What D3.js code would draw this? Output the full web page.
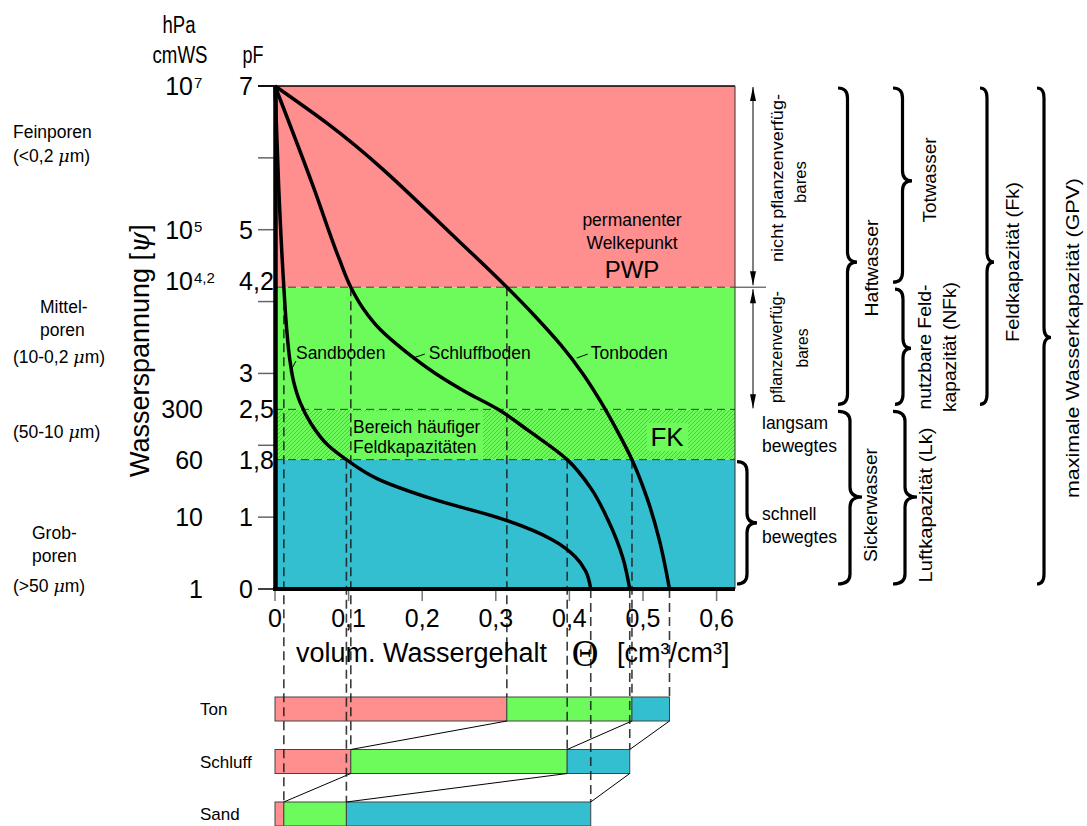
<!doctype html>
<html>
<head>
<meta charset="utf-8">
<title>pF-Kurven</title>
<style>
  body { margin: 0; background: #fff; }
  svg text { font-family: "Liberation Sans", Arial, sans-serif; fill: #000; }
</style>
</head>
<body>
<svg id="chart" width="1087" height="826"></svg>
<script src="https://d3js.org/d3.v7.min.js"></script>
<script>
  // ---- data ----
  var pfTicks = [7, 6, 5, 4, 3, 2, 1, 0];
  var pfLabels = [[7, "7"], [5, "5"], [4.2, "4,2"], [3, "3"], [2.5, "2,5"], [1.8, "1,8"], [1, "1"], [0, "0"]];
  var hpaLabels = [[7, "10", "7"], [5, "10", "5"], [4.2, "10", "4,2"], [2.5, "300", ""], [1.8, "60", ""], [1, "10", ""], [0, "1", ""]];
  var thetaTicks = [0, 0.1, 0.2, 0.3, 0.4, 0.5, 0.6];
  var thetaLabels = ["0", "0,1", "0,2", "0,3", "0,4", "0,5", "0,6"];

  // [theta, pF]
  var sandCurve = [[0, 7], [0.005, 5.6], [0.012, 4.2], [0.016, 3.6], [0.020, 3.2], [0.025, 2.9], [0.034, 2.6],
    [0.049, 2.3], [0.072, 2.0], [0.097, 1.8], [0.14, 1.53], [0.215, 1.25], [0.31, 0.97], [0.376, 0.69],
    [0.408, 0.45], [0.422, 0.25], [0.429, 0]];
  var siltCurve = [[0, 7], [0.052, 5.6], [0.087, 4.6], [0.103, 4.2], [0.12, 3.9], [0.143, 3.61], [0.178, 3.3],
    [0.218, 3.0], [0.258, 2.75], [0.303, 2.5], [0.345, 2.2], [0.397, 1.8], [0.43, 1.39], [0.452, 0.97],
    [0.473, 0.42], [0.482, 0]];
  var clayCurve = [[0, 7], [0.071, 6.48], [0.251, 4.83], [0.315, 4.2], [0.353, 3.8], [0.388, 3.4], [0.418, 3.0],
    [0.443, 2.6], [0.465, 2.2], [0.485, 1.8], [0.506, 1.25], [0.522, 0.69], [0.536, 0]];

  var soils = ["Ton", "Schluff", "Sand"];
  var thetaPWP = [0.315, 0.103, 0.012];
  var thetaFK = [0.485, 0.397, 0.097];
  var thetaGPV = [0.536, 0.482, 0.429];

  var bandFrom = [7, 4.2, 2.5, 1.8];
  var bandTo = [4.2, 2.5, 1.8, 0];

  var braceTop = [1.8, 7, 2.5, 7, 4.2, 2.5, 7, 7];
  var braceBottom = [0, 2.5, 0, 4.2, 2.5, 0, 2.5, 0];
  var braceTip = [0.92, 4.55, 1.28, 5.68, 3.35, 1.28, 4.55, 3.5];

  // ---- setup ----
  var pink = "#ff8e8e", green = "#6dfb5c", cyan = "#33bfcf";
  var bandFill = [pink, green, "url(#hatch)", cyan];

  var svg = d3.select("#chart");
  var x = d3.scaleLinear().domain([0, 0.625]).range([275, 735]);
  var y = d3.scaleLinear().domain([0, 7]).range([589, 86]);
  var yBar = d3.scalePoint().domain(soils).range([697, 802]);
  var barH = 24;

  var defs = svg.append("defs");
  var pat = defs.append("pattern").attr("id", "hatch")
    .attr("patternUnits", "userSpaceOnUse").attr("width", 4).attr("height", 4);
  pat.append("rect").attr("width", 4).attr("height", 4).attr("fill", green);
  pat.append("path").attr("d", "M-1,1 l2,-2 M0,4 l4,-4 M3,5 l2,-2")
    .attr("stroke", "#8f9a88").attr("stroke-width", 1);

  // bands
  svg.selectAll("rect.band").data(bandFrom).enter().append("rect")
    .attr("class", "band")
    .attr("x", x(0)).attr("width", x(0.625) - x(0))
    .attr("y", function(d) { return y(d); })
    .attr("height", function(d, i) { return y(bandTo[i]) - y(d); })
    .attr("fill", function(d, i) { return bandFill[i]; });

  // boxes behind hatched-area texts
  svg.append("rect").attr("x", 350).attr("y", y(2.5) + 2).attr("width", 133)
    .attr("height", y(1.8) - y(2.5) - 3).attr("fill", green);
  svg.append("rect").attr("x", 647).attr("y", 423).attr("width", 41).attr("height", 28).attr("fill", green);

  // dashed boundaries
  svg.selectAll("line.bd").data([4.2, 2.5, 1.8]).enter().append("line")
    .attr("x1", x(0)).attr("x2", x(0.625))
    .attr("y1", function(d) { return y(d); }).attr("y2", function(d) { return y(d); })
    .attr("stroke", "#3a3a3a").attr("stroke-width", 1).attr("stroke-dasharray", "8,5");

  // left ticks
  svg.selectAll("line.lt").data(pfTicks).enter().append("line")
    .attr("x1", 258).attr("x2", 275)
    .attr("y1", function(d) { return y(d); }).attr("y2", function(d) { return y(d); })
    .attr("stroke", function(d) { return (d == 7 || d == 0) ? "#000" : "#666"; })
    .attr("stroke-width", 1.5);
  svg.append("line").attr("x1", 258).attr("x2", 735).attr("y1", y(7)).attr("y2", y(7))
    .attr("stroke", "#000").attr("stroke-width", 1.5);
  svg.append("line").attr("x1", 735).attr("x2", 735).attr("y1", y(7)).attr("y2", y(0))
    .attr("stroke", "#333").attr("stroke-width", 1);

  // bottom ticks
  svg.selectAll("line.bt").data(thetaTicks).enter().append("line")
    .attr("x1", function(d) { return x(d); }).attr("x2", function(d) { return x(d); })
    .attr("y1", y(0)).attr("y2", y(0) + 12)
    .attr("stroke", "#777").attr("stroke-width", 1.5);

  // soil bars
  soils.forEach(function(s, i) {
    var segs = [[0, thetaPWP[i], pink], [thetaPWP[i], thetaFK[i], green], [thetaFK[i], thetaGPV[i], cyan]];
    svg.selectAll(null).data(segs).enter().append("rect")
      .attr("x", function(d) { return x(d[0]); })
      .attr("width", function(d) { return x(d[1]) - x(d[0]); })
      .attr("y", yBar(s)).attr("height", barH)
      .attr("fill", function(d) { return d[2]; })
      .attr("stroke", "#444").attr("stroke-width", 1);
    svg.append("text").attr("x", 200).attr("y", yBar(s) + 18)
      .attr("font-size", 17).text(s);
  });

  // connecting lines between bars
  for (var i = 0; i < soils.length - 1; i++) {
    [thetaPWP, thetaFK, thetaGPV].forEach(function(arr) {
      svg.append("line")
        .attr("x1", x(arr[i])).attr("y1", yBar(soils[i]) + barH)
        .attr("x2", x(arr[i + 1])).attr("y2", yBar(soils[i + 1]))
        .attr("stroke", "#000").attr("stroke-width", 1);
    });
  }

  // dashed verticals from curves to bars
  soils.forEach(function(s, i) {
    [[thetaPWP[i], 4.2], [thetaFK[i], 1.8], [thetaGPV[i], 0]].forEach(function(p) {
      svg.append("line")
        .attr("x1", x(p[0])).attr("x2", x(p[0]))
        .attr("y1", y(p[1])).attr("y2", yBar(s))
        .attr("stroke", "#1a1a1a").attr("stroke-opacity", 0.85)
        .attr("stroke-width", 1.6).attr("stroke-dasharray", "9,5");
    });
  });

  // axes
  svg.append("line").attr("x1", 275.5).attr("x2", 275.5).attr("y1", y(7)).attr("y2", y(0) + 2)
    .attr("stroke", "#000").attr("stroke-width", 4.5);
  svg.append("line").attr("x1", 273).attr("x2", 735).attr("y1", y(0)).attr("y2", y(0))
    .attr("stroke", "#000").attr("stroke-width", 4);

  // curves (theta as a smooth function of pF)
  var line = d3.line()
    .x(function(d) { return x(d[0]); })
    .y(function(d) { return y(d[1]); })
    .curve(d3.curveMonotoneY);
  [sandCurve, siltCurve, clayCurve].forEach(function(c) {
    svg.append("path").attr("d", line(c)).attr("fill", "none")
      .attr("stroke", "#000").attr("stroke-width", 3.5).attr("stroke-linejoin", "round");
  });

  // curve labels with leaders
  var curveLabels = [["Sandboden", 0.0285, 3.2, 0, 2, -6, 11],
    ["Schluffboden", 0.209, 3.2, -4, -5, -12, 4],
    ["Tonboden", 0.429, 3.2, -3, -5, -11, 4]];
  curveLabels.forEach(function(l) {
    var lx = x(l[1]), ly = y(l[2]);
    svg.append("text").attr("x", lx).attr("y", ly).attr("font-size", 17.5).text(l[0]);
    svg.append("line").attr("x1", lx + l[3]).attr("y1", ly + l[4])
      .attr("x2", lx + l[3] + l[5]).attr("y2", ly + l[4] + l[6])
      .attr("stroke", "#000").attr("stroke-width", 1);
  });

  // plot texts
  function txt(t, tx, ty, size, anchor) {
    return svg.append("text").attr("x", tx).attr("y", ty).attr("font-size", size)
      .attr("text-anchor", anchor || "start").text(t);
  }
  txt("permanenter", 632, 226, 17.5, "middle");
  txt("Welkepunkt", 632, 249, 17.5, "middle");
  txt("PWP", 632, 278, 24, "middle");
  txt("Bereich häufiger", 353, 433, 17.5);
  txt("Feldkapazitäten", 353, 453, 17.5);
  txt("FK", 667, 446, 26, "middle");

  // tick labels
  pfLabels.forEach(function(l) {
    var ty = y(l[0]) + (l[0] == 4.2 ? 3 : 9);
    var parts = l[1].split(",");
    txt(parts[0], 253, ty, 25, "end");
    if (parts.length > 1) txt("," + parts[1], 253, ty, 25, "start");
  });
  hpaLabels.forEach(function(l) {
    var ty = y(l[0]) + (l[0] == 4.2 ? 3 : 9);
    if (l[2]) {
      txt(l[1], 193, ty, 25, "end");
      txt(l[2], 194, ty - 7, 15, "start");
    } else {
      txt(l[1], 203, ty, 25, "end");
    }
  });
  thetaTicks.forEach(function(t, i) {
    txt(thetaLabels[i], x(t), 627, 25, "middle");
  });

  txt("hPa", 179, 33, 23, "middle").attr("textLength", 33).attr("lengthAdjust", "spacingAndGlyphs");
  txt("cmWS", 180, 63, 23, "middle").attr("textLength", 55).attr("lengthAdjust", "spacingAndGlyphs");
  txt("pF", 253, 63, 23, "middle").attr("textLength", 21).attr("lengthAdjust", "spacingAndGlyphs");

  // pore labels (mu in italics)
  var poreLabels = [["Feinporen", 13, 138], ["(<0,2 μm)", 13, 162], ["Mittel-", 40, 313], ["poren", 40, 336],
    ["(10-0,2 μm)", 13, 363], ["(50-10 μm)", 13, 438], ["Grob-", 32, 539], ["poren", 32, 562], ["(>50 μm)", 13, 592]];
  poreLabels.forEach(function(l) {
    var t = txt("", l[1], l[2], 17.5);
    var parts = l[0].split("μ");
    t.append("tspan").text(parts[0]);
    if (parts.length > 1) {
      t.append("tspan").attr("font-style", "italic").attr("font-family", "DejaVu Serif").text(" μ");
      t.append("tspan").text(parts[1]);
    }
  });

  // y axis title
  var yt = svg.append("text").attr("transform", "translate(149,477) rotate(-90)").attr("font-size", 27);
  yt.append("tspan").text("Wasserspannung  [");
  yt.append("tspan").attr("font-style", "italic").attr("font-family", "DejaVu Serif").text("ψ");
  yt.append("tspan").text("]");

  // x axis title
  txt("volum. Wassergehalt", 296, 662, 27);
  svg.append("text").attr("x", 585).attr("y", 666).attr("font-size", 37).attr("text-anchor", "middle")
    .style("font-family", "'Liberation Serif', serif").text("Θ");
  txt("[cm³/cm³]", 617, 662, 27);

  // right-hand arrows
  function arrowHead(ax, ay, dir) {
    svg.append("path")
      .attr("d", "M" + ax + "," + ay + " L" + (ax - 3) + "," + (ay + dir * 14) + " L" + (ax + 3) + "," + (ay + dir * 14) + "Z")
      .attr("fill", "#000");
  }
  svg.append("line").attr("x1", 753).attr("x2", 753).attr("y1", y(7) + 1).attr("y2", y(4.2) - 2)
    .attr("stroke", "#000").attr("stroke-width", 1);
  arrowHead(753, y(7) + 1, 1);
  arrowHead(753, y(4.2) - 2, -1);
  svg.append("line").attr("x1", 753).attr("x2", 753).attr("y1", y(4.2) + 2).attr("y2", y(2.5) - 1)
    .attr("stroke", "#000").attr("stroke-width", 1);
  arrowHead(753, y(4.2) + 2, 1);
  arrowHead(753, y(2.5) - 1, -1);
  svg.append("line").attr("x1", 735).attr("x2", 766).attr("y1", y(4.2)).attr("y2", y(4.2))
    .attr("stroke", "#333").attr("stroke-width", 1);

  txt("langsam", 762, 429, 17.5);
  txt("bewegtes", 762, 452, 17.5);
  txt("schnell", 762, 520, 17.5);
  txt("bewegtes", 762, 543, 17.5);

  // braces
  var braceX = [737, 838, 838, 893, 895, 893, 980, 1037];
  var braceW = [20, 19, 24, 19, 16, 24, 14, 14];
  function bracePath(bx, y0, y1, tip, w) {
    var r = Math.min(10, (y1 - y0) / 4);
    var m = bx + w / 2;
    return "M" + bx + "," + y0 + " Q" + m + "," + y0 + " " + m + "," + (y0 + r) +
      " L" + m + "," + (tip - r) + " Q" + m + "," + tip + " " + (bx + w) + "," + tip +
      " Q" + m + "," + tip + " " + m + "," + (tip + r) +
      " L" + m + "," + (y1 - r) + " Q" + m + "," + y1 + " " + bx + "," + y1;
  }
  braceTop.forEach(function(t, i) {
    svg.append("path")
      .attr("d", bracePath(braceX[i], y(t) + 2, y(braceBottom[i]) - 5, y(braceTip[i]), braceW[i]))
      .attr("fill", "none").attr("stroke", "#000").attr("stroke-width", 3.2);
  });

  // rotated labels: text, baseline x, centre y, size, length
  var sideLabels = [["nicht pflanzenverfüg-", 783, 178, 17, 168], ["bares", 806, 182, 17, 42],
    ["pflanzenverfüg-", 782, 347, 17, 112], ["bares", 808, 348, 17, 39],
    ["Haftwasser", 878, 268, 19, 97], ["Sickerwasser", 877, 505, 19, 114],
    ["Totwasser", 936, 180, 19, 85], ["nutzbare Feld-", 931, 347, 19, 125],
    ["kapazität (NFk)", 956, 347, 19, 130], ["Luftkapazität  (Lk)", 932, 505, 19, 155],
    ["Feldkapazität (Fk)", 1019, 262, 19, 160], ["maximale Wasserkapazität (GPV)", 1079, 338, 19, 320]];
  sideLabels.forEach(function(l) {
    svg.append("text").attr("transform", "translate(" + l[1] + "," + l[2] + ") rotate(-90)")
      .attr("font-size", l[3]).attr("text-anchor", "middle")
      .attr("textLength", l[4]).attr("lengthAdjust", "spacingAndGlyphs")
      .text(l[0]);
  });
</script>
</body>
</html>
